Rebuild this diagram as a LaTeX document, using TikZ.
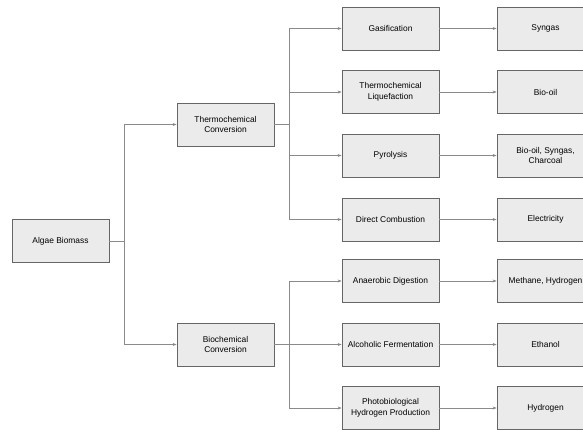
\documentclass[tikz,border=0pt]{standalone}
\usepackage{fontspec}
\setmainfont{Liberation Sans}
\usetikzlibrary{arrows.meta}

\definecolor{boxfill}{HTML}{EBEBEB}
\definecolor{boxline}{HTML}{666666}
\definecolor{linkline}{HTML}{8A8A8A}

\begin{document}
\begin{tikzpicture}[x=1pt, y=-1pt,
    stage/.style={draw=boxline, fill=boxfill, line width=0.8pt,
        minimum width=97pt, minimum height=43pt, inner sep=1pt,
        align=center, text=black,
        font=\fontsize{8.4}{10.5}\selectfont},
    link/.style={draw=linkline, line width=0.7pt,
        -{Stealth[length=4pt, width=3pt, fill=black!70]}}]
    \useasboundingbox (0,0) rectangle (583,430);

    % Source
    \node[stage] (algae) at (60.5,241) {Algae Biomass};

    % Conversion routes
    \node[stage] (thermo) at (225.5,124.5) {Thermochemical\\Conversion};
    \node[stage] (bio) at (225.5,344.5) {Biochemical\\Conversion};

    % Processes
    \node[stage] (gasif) at (390.5,28.5) {Gasification};
    \node[stage] (liquef) at (390.5,92) {Thermochemical\\Liquefaction};
    \node[stage] (pyro) at (390.5,155.5) {Pyrolysis};
    \node[stage] (combust) at (390.5,219.5) {Direct Combustion};
    \node[stage] (anaer) at (390.5,281) {Anaerobic Digestion};
    \node[stage] (ferm) at (390.5,344.5) {Alcoholic Fermentation};
    \node[stage] (photo) at (390.5,408) {Photobiological\\Hydrogen Production};

    % Products
    \node[stage] (syngas) at (545.5,28.5) {Syngas};
    \node[stage] (biooil) at (545.5,92) {Bio-oil};
    \node[stage] (mixed) at (545.5,155.5) {Bio-oil, Syngas,\\Charcoal};
    \node[stage] (elec) at (545.5,219.5) {Electricity};
    \node[stage] (methane) at (545.5,281) {Methane, Hydrogen};
    \node[stage] (ethanol) at (545.5,344.5) {Ethanol};
    \node[stage] (hydrogen) at (545.5,408) {Hydrogen};

    % Tree connectors
    \draw[link] (algae.east) -- ++(15,0) |- (thermo.west);
    \draw[link] (algae.east) -- ++(15,0) |- (bio.west);
    \foreach \p in {gasif, liquef, pyro, combust}
        \draw[link] (thermo.east) -- ++(15,0) |- (\p.west);
    \foreach \p in {anaer, ferm, photo}
        \draw[link] (bio.east) -- ++(15,0) |- (\p.west);

    % Process to product
    \draw[link] (gasif) -- (syngas);
    \draw[link] (liquef) -- (biooil);
    \draw[link] (pyro) -- (mixed);
    \draw[link] (combust) -- (elec);
    \draw[link] (anaer) -- (methane);
    \draw[link] (ferm) -- (ethanol);
    \draw[link] (photo) -- (hydrogen);
\end{tikzpicture}
\end{document}
